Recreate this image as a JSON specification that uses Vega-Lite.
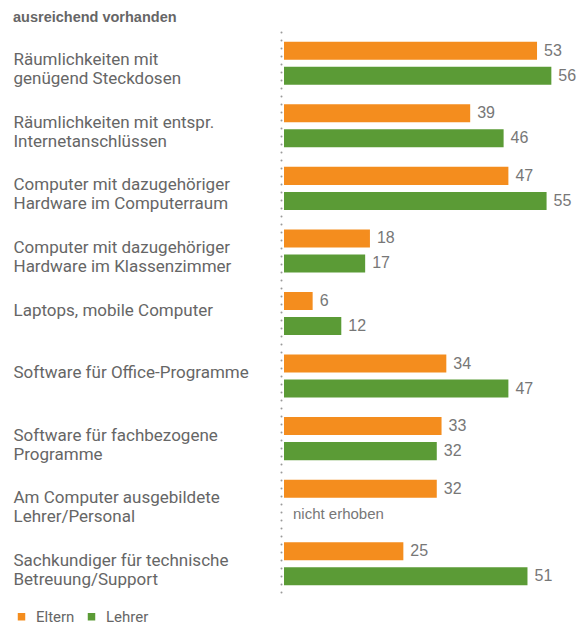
{
  "$schema": "https://vega.github.io/schema/vega-lite/v6.json",
  "width": 296,
  "height": 563,
  "autosize": {"type": "none"},
  "padding": {"left": 284, "top": 32, "right": 0, "bottom": 31},
  "title": {
    "text": "ausreichend vorhanden",
    "anchor": "start",
    "frame": "group",
    "dx": -271,
    "offset": 7,
    "font": "Liberation Sans",
    "fontSize": 14.5,
    "fontWeight": "bold",
    "color": "#666666"
  },
  "data": {
    "values": [
      {"cat": "Räumlichkeiten mit\ngenügend Steckdosen", "series": "Eltern", "value": 53},
      {"cat": "Räumlichkeiten mit\ngenügend Steckdosen", "series": "Lehrer", "value": 56},
      {"cat": "Räumlichkeiten mit entspr.\nInternetanschlüssen", "series": "Eltern", "value": 39},
      {"cat": "Räumlichkeiten mit entspr.\nInternetanschlüssen", "series": "Lehrer", "value": 46},
      {"cat": "Computer mit dazugehöriger\nHardware im Computerraum", "series": "Eltern", "value": 47},
      {"cat": "Computer mit dazugehöriger\nHardware im Computerraum", "series": "Lehrer", "value": 55},
      {"cat": "Computer mit dazugehöriger\nHardware im Klassenzimmer", "series": "Eltern", "value": 18},
      {"cat": "Computer mit dazugehöriger\nHardware im Klassenzimmer", "series": "Lehrer", "value": 17},
      {"cat": "Laptops, mobile Computer", "series": "Eltern", "value": 6},
      {"cat": "Laptops, mobile Computer", "series": "Lehrer", "value": 12},
      {"cat": "Software für Office-Programme", "series": "Eltern", "value": 34},
      {"cat": "Software für Office-Programme", "series": "Lehrer", "value": 47},
      {"cat": "Software für fachbezogene\nProgramme", "series": "Eltern", "value": 33},
      {"cat": "Software für fachbezogene\nProgramme", "series": "Lehrer", "value": 32},
      {"cat": "Am Computer ausgebildete\nLehrer/Personal", "series": "Eltern", "value": 32},
      {"cat": "Am Computer ausgebildete\nLehrer/Personal", "series": "Lehrer", "value": null, "note": "nicht erhoben"},
      {"cat": "Sachkundiger für technische\nBetreuung/Support", "series": "Eltern", "value": 25},
      {"cat": "Sachkundiger für technische\nBetreuung/Support", "series": "Lehrer", "value": 51}
    ]
  },
  "encoding": {
    "y": {
      "field": "cat",
      "type": "nominal",
      "sort": null,
      "scale": {"paddingInner": 0, "paddingOuter": 0},
      "axis": {
        "title": null,
        "ticks": false,
        "tickSize": 0,
        "offset": 3,
        "labelAlign": "left",
        "labelBaseline": "middle",
        "labelPadding": 268,
        "labelLimit": 0,
        "labelOffset": -3,
        "labelExpr": "split(datum.label, '\\n')",
        "labelFont": "Roboto",
        "labelFontSize": 17,
        "labelLineHeight": 19,
        "labelColor": "#666666",
        "domainColor": "#999999",
        "domainWidth": 2,
        "domainDash": [0.1, 7.9],
        "domainCap": "round"
      }
    },
    "yOffset": {
      "field": "series",
      "type": "nominal",
      "sort": ["Eltern", "Lehrer"],
      "scale": {"paddingInner": 0.28, "paddingOuter": 0.39}
    }
  },
  "layer": [
    {
      "mark": {"type": "bar"},
      "encoding": {
        "x": {"field": "value", "type": "quantitative", "scale": {"domain": [0, 62], "nice": false, "zero": true}, "axis": null},
        "color": {
          "field": "series",
          "type": "nominal",
          "scale": {"domain": ["Eltern", "Lehrer"], "range": ["#f48d1e", "#5b9b36"]},
          "legend": {
            "title": null,
            "orient": "none",
            "direction": "horizontal",
            "legendX": -270,
            "legendY": 577,
            "symbolType": "square",
            "symbolSize": 56,
            "symbolOpacity": 1,
            "symbolStrokeWidth": 0,
            "labelFont": "Roboto",
            "labelFontSize": 15,
            "labelColor": "#666666",
            "labelOffset": 7,
            "columnPadding": 9,
            "padding": 0
          }
        }
      }
    },
    {
      "transform": [{"filter": "isValid(datum.value)"}],
      "mark": {"type": "text", "align": "left", "baseline": "middle", "dx": 7, "font": "Liberation Sans", "fontSize": 16, "color": "#777777"},
      "encoding": {
        "x": {"field": "value", "type": "quantitative"},
        "text": {"field": "value", "type": "quantitative"}
      }
    },
    {
      "transform": [{"filter": "datum.note != null"}],
      "mark": {"type": "text", "align": "left", "baseline": "middle", "dx": 9, "font": "Liberation Sans", "fontSize": 15, "color": "#777777"},
      "encoding": {
        "x": {"datum": 0, "type": "quantitative"},
        "text": {"field": "note"}
      }
    }
  ],
  "config": {"view": {"stroke": null}}
}
